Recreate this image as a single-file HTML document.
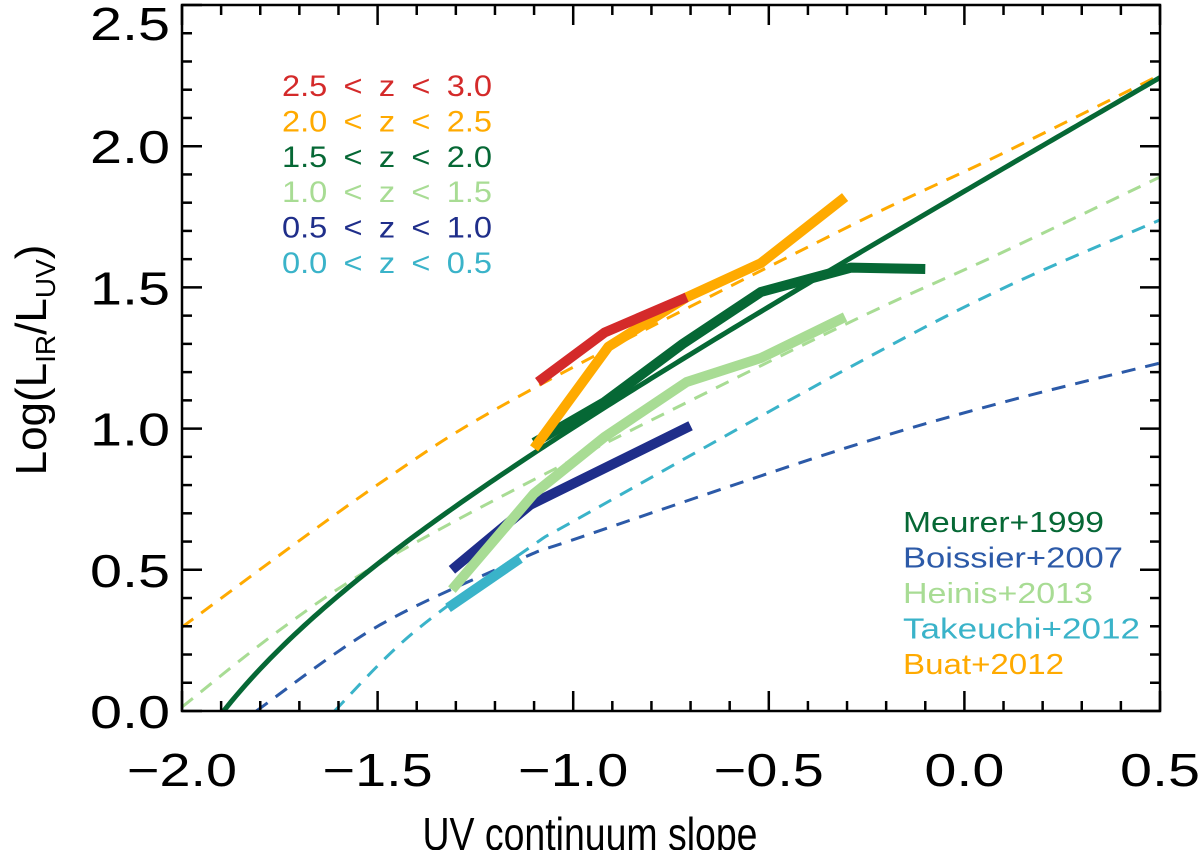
<!DOCTYPE html>
<html><head><meta charset="utf-8"><style>
html,body{margin:0;padding:0;background:#fff;}
svg{display:block;font-family:"Liberation Sans",sans-serif;}
</style></head><body>
<svg id="chart" width="1200" height="850" viewBox="0 0 1200 850" xmlns="http://www.w3.org/2000/svg">
<g id="curves"></g>
<g id="series"></g>
<g id="axes"></g>
<g id="legend1"></g>
<g id="legend2"></g>
<text x="590" y="850" text-anchor="middle" font-size="46" fill="#000" textLength="335" lengthAdjust="spacingAndGlyphs">UV continuum slope</text>
<text transform="translate(46,360) rotate(-90)" text-anchor="middle" font-size="44" fill="#000">Log(L<tspan font-size="28" dy="9">IR</tspan><tspan dy="-9">/L</tspan><tspan font-size="28" dy="9">UV</tspan><tspan dy="-9">)</tspan></text>
</svg>
<script>
const NS="http://www.w3.org/2000/svg";
const xTicks=[-2.0,-1.5,-1.0,-0.5,0.0,0.5];
const xTickLabels=["\u22122.0","\u22121.5","\u22121.0","\u22120.5","0.0","0.5"];
const yTicks=[0.0,0.5,1.0,1.5,2.0,2.5];
const yTickLabels=["0.0","0.5","1.0","1.5","2.0","2.5"];

const seriesNames=["2.5 < z < 3.0","2.0 < z < 2.5","1.5 < z < 2.0","1.0 < z < 1.5","0.5 < z < 1.0","0.0 < z < 0.5"];
const seriesColors=["#d42a2a","#ffaa00","#066835","#a8dc94","#1f2e8a","#3ab3c9"];
const betaZ25=[-1.09,-0.92,-0.71];
const irxZ25=[1.165,1.34,1.465];
const betaZ20=[-1.10,-0.91,-0.71,-0.52,-0.305];
const irxZ20=[0.93,1.29,1.465,1.586,1.82];
const betaZ15=[-1.10,-0.92,-0.72,-0.52,-0.29,-0.10];
const irxZ15=[0.95,1.094,1.30,1.484,1.57,1.565];
const betaZ10=[-1.31,-1.10,-0.92,-0.71,-0.52,-0.305];
const irxZ10=[0.43,0.77,0.97,1.165,1.25,1.395];
const betaZ05=[-1.31,-1.11,-0.70];
const irxZ05=[0.50,0.73,1.01];
const betaZ00=[-1.32,-1.136];
const irxZ00=[0.365,0.54];

const relNames=["Meurer+1999","Boissier+2007","Heinis+2013","Takeuchi+2012","Buat+2012"];
const relColors=["#066835","#2c5aa8","#a8dc94","#3ab3c9","#ffaa00"];
const relWidths=[201,220,190,237,161];
const betaBoissier=[-1.81,-1.5,-1.14,-0.98,-0.32,0.09,0.5];
const irxBoissier=[0,0.30,0.535,0.616,0.924,1.09,1.232];
const betaTakeuchi=[-1.61,-1.41,-1.11,-0.98,-0.32,0.09,0.5];
const irxTakeuchi=[0,0.276,0.58,0.687,1.197,1.491,1.739];
const betaHeinis=[-2.0,-1.75,-1.494,-1.067,-0.318,0.091,0.5];
const irxHeinis=[0.014,0.287,0.524,0.843,1.36,1.62,1.891];
const betaBuat=[-2.0,-1.494,-1.118,-0.318,0.091,0.5];
const irxBuat=[0.297,0.807,1.13,1.70,1.97,2.252];
const meurerParams=[4.43,1.99,0.076];

const X0=182,X1=1160,Y0=711,Y1=5;
const xs=b=>X0+(b-(-2.0))/2.5*(X1-X0);
const ys=v=>Y0-(v/2.5)*(Y0-Y1);

function mk(tag,attrs,parent){const e=document.createElementNS(NS,tag);for(const k in attrs)e.setAttribute(k,attrs[k]);parent.appendChild(e);return e;}

const clipDefs=mk('defs',{},document.getElementById('chart'));
const cp=mk('clipPath',{id:'plotclip'},clipDefs);
mk('rect',{x:X0,y:Y1,width:X1-X0,height:Y0-Y1},cp);

function smoothPath(bx,by){
  const p=bx.map((b,i)=>[xs(b),ys(by[i])]);
  let d=`M${p[0][0]},${p[0][1]}`;
  for(let i=0;i<p.length-1;i++){
    const p0=p[i-1]||p[i],p1=p[i],p2=p[i+1],p3=p[i+2]||p2;
    const c1=[p1[0]+(p2[0]-p0[0])/6,p1[1]+(p2[1]-p0[1])/6];
    const c2=[p2[0]-(p3[0]-p1[0])/6,p2[1]-(p3[1]-p1[1])/6];
    d+=` C${c1[0]},${c1[1]} ${c2[0]},${c2[1]} ${p2[0]},${p2[1]}`;
  }
  return d;
}
const curves=document.getElementById('curves');
curves.setAttribute('clip-path','url(#plotclip)');
const relData=[[betaBoissier,irxBoissier,'boissier-curve',1],[betaTakeuchi,irxTakeuchi,'takeuchi-curve',3],[betaHeinis,irxHeinis,'heinis-curve',2],[betaBuat,irxBuat,'buat-curve',4]];
relData.forEach(r=>{
  const e=mk('path',{d:smoothPath(r[0],r[1]),fill:'none',stroke:relColors[r[3]],'stroke-width':3,'stroke-dasharray':'14 10'},curves);
  
  
});
let md='';
for(let i=0;i<=200;i++){
  const b=-2+2.5*i/200;
  const A=meurerParams[0]+meurerParams[1]*b;
  const t=Math.pow(10,0.4*A)-1;
  if(t<=0)continue;
  const v=Math.log10(t)+meurerParams[2];
  md+=(md?' L':'M')+xs(b)+','+ys(v);
}
const me=mk('path',{d:md,fill:'none',stroke:relColors[0],'stroke-width':5},curves);



const series=document.getElementById('series');
const sData=[[betaZ05,irxZ05,4,'series-z05-10'],[betaZ10,irxZ10,3,'series-z10-15'],[betaZ00,irxZ00,5,'series-z00-05'],[betaZ15,irxZ15,2,'series-z15-20'],[betaZ20,irxZ20,1,'series-z20-25'],[betaZ25,irxZ25,0,'series-z25-30']];
sData.forEach(s=>{
  const pts=s[0].map((b,i)=>xs(b)+','+ys(s[1][i])).join(' ');
  const e=mk('polyline',{points:pts,fill:'none',stroke:seriesColors[s[2]],'stroke-width':10,'stroke-linejoin':'round'},series);
  
  
});

const axes=document.getElementById('axes');
const fr=mk('rect',{x:X0,y:Y1,width:X1-X0,height:Y0-Y1,fill:'none',stroke:'#000','stroke-width':2.5},axes);


for(let i=0;i<=25;i++){
  const b=-2+i*0.1,x=xs(b),L=(i%5===0)?20:10;
  mk('line',{x1:x,y1:Y0,x2:x,y2:Y0-L,stroke:'#000','stroke-width':2.5},axes);
  mk('line',{x1:x,y1:Y1,x2:x,y2:Y1+L,stroke:'#000','stroke-width':2.5},axes);
  const v=i*0.1,y=ys(v);
  mk('line',{x1:X0,y1:y,x2:X0+L,y2:y,stroke:'#000','stroke-width':2.5},axes);
  mk('line',{x1:X1,y1:y,x2:X1-L,y2:y,stroke:'#000','stroke-width':2.5},axes);
}
xTicks.forEach((b,i)=>{
  const t=mk('text',{x:xs(b),y:786,'text-anchor':'middle','font-size':46,fill:'#000',textLength:(i<4?110:80),lengthAdjust:'spacingAndGlyphs'},axes);
  t.textContent=xTickLabels[i];
  
  
});
yTicks.forEach((v,i)=>{
  const t=mk('text',{x:170,y:Math.max(ys(v)+17,40),'text-anchor':'end','font-size':46,fill:'#000',textLength:80,lengthAdjust:'spacingAndGlyphs'},axes);
  t.textContent=yTickLabels[i];
  
  
});

const l1=document.getElementById('legend1');
seriesNames.forEach((n,i)=>{
  const t=mk('text',{x:282,y:96+i*35.4,'font-size':30,fill:seriesColors[i],textLength:210,lengthAdjust:'spacingAndGlyphs'},l1);
  t.textContent=n.replace(/ /g,'\u2002');
  
  
});
const l2=document.getElementById('legend2');
relNames.forEach((n,i)=>{
  const t=mk('text',{x:903,y:532+i*35.5,'font-size':29,fill:relColors[i],textLength:relWidths[i],lengthAdjust:'spacingAndGlyphs'},l2);
  t.textContent=n;
  
  
});
</script>
</body></html>
